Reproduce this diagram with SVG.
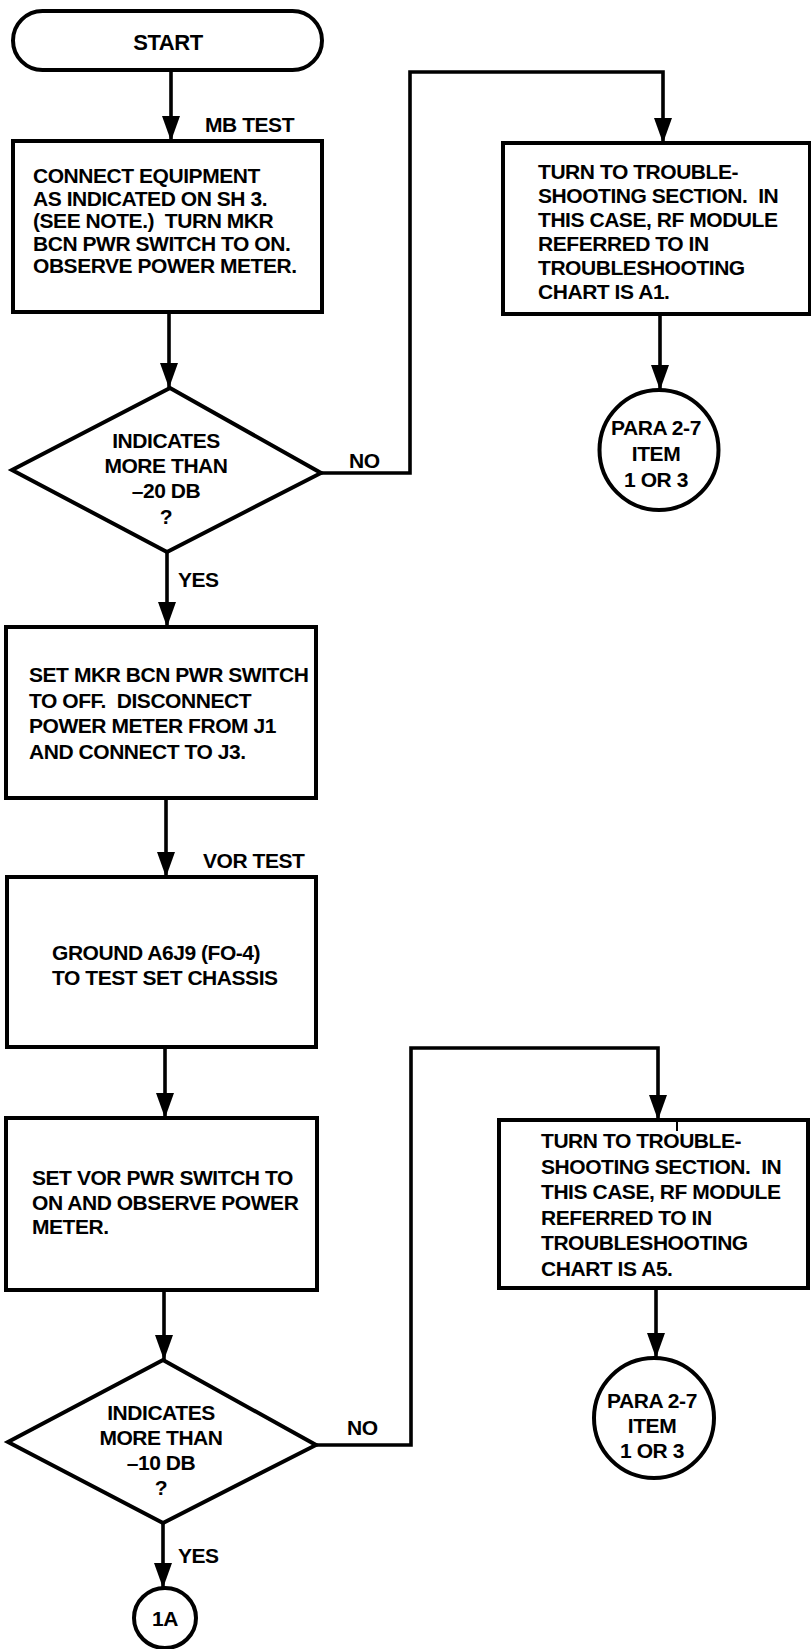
<svg xmlns="http://www.w3.org/2000/svg" width="811" height="1649" viewBox="0 0 811 1649">
<style>
.shape{fill:#fff;stroke:#000;stroke-width:4;stroke-linejoin:miter}
.conn{fill:none;stroke:#000;stroke-width:3.6;stroke-linejoin:miter}
.t{font-family:"Liberation Sans",Arial,sans-serif;font-weight:bold;font-size:21px;letter-spacing:-0.45px;fill:#000;white-space:pre}
.c{text-anchor:middle}
</style>
<defs>
<marker id="ah" markerUnits="userSpaceOnUse" markerWidth="30" markerHeight="22" refX="25" refY="11" orient="auto">
<path d="M0,2 L25,11 L0,20 Z" fill="#000"/>
</marker>
</defs>
<rect width="811" height="1649" fill="#fff"/>
<g id="connectors">
<path class="conn" d="M171,70 V141" marker-end="url(#ah)"/>
<path class="conn" d="M169,312 V388" marker-end="url(#ah)"/>
<path class="conn" d="M321,473 H410 V72 H663 V143" marker-end="url(#ah)"/>
<path class="conn" d="M660,314 V390" marker-end="url(#ah)"/>
<path class="conn" d="M167,552 V627" marker-end="url(#ah)"/>
<path class="conn" d="M166,798 V877" marker-end="url(#ah)"/>
<path class="conn" d="M165,1047 V1118" marker-end="url(#ah)"/>
<path class="conn" d="M164,1290 V1360" marker-end="url(#ah)"/>
<path class="conn" d="M316,1445 H411 V1048 H658 V1120" marker-end="url(#ah)"/>
<path class="conn" d="M656,1288 V1358" marker-end="url(#ah)"/>
<path class="conn" d="M163,1523 V1588" marker-end="url(#ah)"/>
<text class="t" x="205" y="132">MB TEST</text>
<text class="t" x="349" y="468">NO</text>
<text class="t" x="178" y="587">YES</text>
<text class="t" x="203" y="868">VOR TEST</text>
<text class="t" x="347" y="1435">NO</text>
<text class="t" x="178" y="1563">YES</text>
</g>
<g id="start">
<rect class="shape" x="13" y="11" width="309" height="59" rx="29.5"/>
<text class="t c" x="168" y="50" style="font-size:22px">START</text>
</g>
<g id="box1">
<rect class="shape" x="13" y="141" width="309" height="171"/>
<text class="t" x="33" y="183">CONNECT EQUIPMENT</text>
<text class="t" x="33" y="205.5">AS INDICATED ON SH 3.</text>
<text class="t" x="33" y="228">(SEE NOTE.)  TURN MKR</text>
<text class="t" x="33" y="250.5">BCN PWR SWITCH TO ON.</text>
<text class="t" x="33" y="273">OBSERVE POWER METER.</text>
</g>
<g id="decision1">
<polygon class="shape" points="170,388 321,473 167,552 12,470"/>
<text class="t c" x="166" y="448">INDICATES</text>
<text class="t c" x="166" y="473">MORE THAN</text>
<text class="t c" x="166" y="498">–20 DB</text>
<text class="t c" x="166" y="524">?</text>
</g>
<g id="trouble1">
<rect class="shape" x="503" y="143" width="307" height="171"/>
<text class="t" x="538" y="179">TURN TO TROUBLE-</text>
<text class="t" x="538" y="203">SHOOTING SECTION.  IN</text>
<text class="t" x="538" y="227">THIS CASE, RF MODULE</text>
<text class="t" x="538" y="251">REFERRED TO IN</text>
<text class="t" x="538" y="275">TROUBLESHOOTING</text>
<text class="t" x="538" y="299">CHART IS A1.</text>
</g>
<g id="para1">
<ellipse class="shape" cx="659" cy="450" rx="59.5" ry="60"/>
<text class="t c" x="656" y="435">PARA 2-7</text>
<text class="t c" x="656" y="461">ITEM</text>
<text class="t c" x="656" y="487">1 OR 3</text>
</g>
<g id="box2">
<rect class="shape" x="6" y="627" width="310" height="171"/>
<text class="t" x="29" y="682">SET MKR BCN PWR SWITCH</text>
<text class="t" x="29" y="708">TO OFF.  DISCONNECT</text>
<text class="t" x="29" y="733">POWER METER FROM J1</text>
<text class="t" x="29" y="759">AND CONNECT TO J3.</text>
</g>
<g id="box3">
<rect class="shape" x="7" y="877" width="309" height="170"/>
<text class="t" x="52" y="960">GROUND A6J9 (FO-4)</text>
<text class="t" x="52" y="985">TO TEST SET CHASSIS</text>
</g>
<g id="box4">
<rect class="shape" x="6" y="1118" width="311" height="172"/>
<text class="t" x="32" y="1185">SET VOR PWR SWITCH TO</text>
<text class="t" x="32" y="1210">ON AND OBSERVE POWER</text>
<text class="t" x="32" y="1234">METER.</text>
</g>
<g id="decision2">
<polygon class="shape" points="163,1360 316,1445 163,1523 8,1442"/>
<text class="t c" x="161" y="1420">INDICATES</text>
<text class="t c" x="161" y="1445">MORE THAN</text>
<text class="t c" x="161" y="1470">–10 DB</text>
<text class="t c" x="161" y="1495">?</text>
</g>
<g id="trouble2">
<rect class="shape" x="499" y="1120" width="309" height="168"/>
<line x1="677" y1="1120" x2="677" y2="1131" stroke="#000" stroke-width="2"/>
<text class="t" x="541" y="1148">TURN TO TROUBLE-</text>
<text class="t" x="541" y="1173.5">SHOOTING SECTION.  IN</text>
<text class="t" x="541" y="1199">THIS CASE, RF MODULE</text>
<text class="t" x="541" y="1224.5">REFERRED TO IN</text>
<text class="t" x="541" y="1250">TROUBLESHOOTING</text>
<text class="t" x="541" y="1275.5">CHART IS A5.</text>
</g>
<g id="para2">
<ellipse class="shape" cx="654" cy="1418" rx="60" ry="60"/>
<text class="t c" x="652" y="1408">PARA 2-7</text>
<text class="t c" x="652" y="1433">ITEM</text>
<text class="t c" x="652" y="1458">1 OR 3</text>
</g>
<g id="conn1A">
<ellipse class="shape" cx="165" cy="1618" rx="31" ry="30"/>
<text class="t c" x="165" y="1626">1A</text>
</g>
</svg>
